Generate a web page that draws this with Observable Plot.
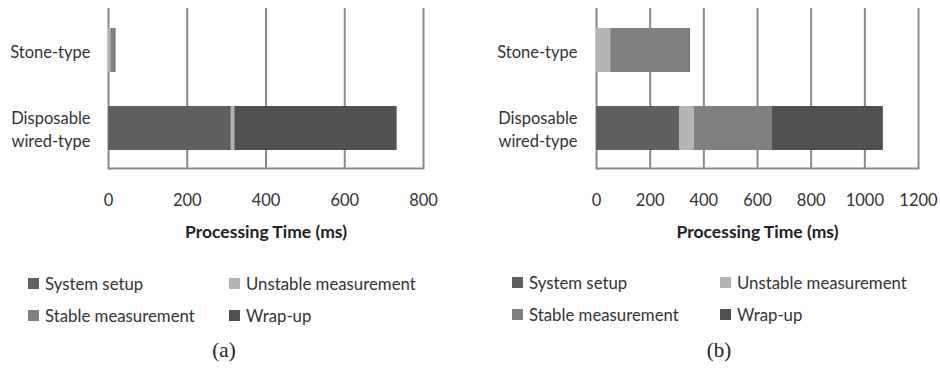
<!DOCTYPE html>
<html>
<head>
<meta charset="utf-8">
<script src="https://cdn.jsdelivr.net/npm/d3@7"></script>
<script src="https://cdn.jsdelivr.net/npm/@observablehq/plot@0.6"></script>
<style>
  html, body { margin: 0; padding: 0; background: #fff; }
  #wrap { display: flex; width: 940px; height: 371px; }
  .panel { position: relative; width: 470px; height: 371px; }
  .legend { position: absolute; font-family: Lato, sans-serif; font-size: 16.8px; color: #333; }
  .item { position: absolute; white-space: nowrap; display: flex; align-items: center; }
  .sw { width: 11px; height: 11px; margin-right: 6px; display: inline-block; }
  .cap { position: absolute; font-family: "Liberation Serif", serif; font-size: 21px; color: #222; transform: translateX(-50%); }
</style>
</head>
<body>
<div id="wrap"></div>
<script>
const categories = ["Stone-type", "Disposable wired-type"];
const stages = ["System setup", "Unstable measurement", "Stable measurement", "Wrap-up"];
const stageColors = ["#606060", "#b4b4b4", "#808080", "#505050"];

// (a) processing time (ms) per stage
const aStone = [0, 6, 10, 3];
const aWired = [312, 7, 2, 412];
const aTicks = [0, 200, 400, 600, 800];

// (b) processing time (ms) per stage
const bStone = [0, 53, 294, 3];
const bWired = [311, 54, 291, 413];
const bTicks = [0, 200, 400, 600, 800, 1000, 1200];

const captions = ["(a)", "(b)"];

function rows(stone, wired) {
  const out = [];
  stages.forEach((s, i) => {
    out.push({category: categories[0], stage: s, value: stone[i]});
    out.push({category: categories[1], stage: s, value: wired[i]});
  });
  return out;
}

const FONT = "Lato, sans-serif";

function panel(data, ticks, opts) {
  const div = document.createElement("div");
  div.className = "panel";
  const plot = Plot.plot({
    width: 470,
    height: 250,
    marginTop: 10,
    marginBottom: 82,
    marginLeft: opts.marginLeft,
    marginRight: opts.marginRight,
    style: {fontFamily: FONT, fontSize: "16.5px", color: "#333", background: "#fff"},
    x: {domain: [ticks[0], ticks[ticks.length - 1]], ticks: ticks},
    y: {domain: categories, paddingInner: 0.4375, paddingOuter: 0.22},
    color: {domain: stages, range: stageColors},
    marks: [
      Plot.ruleX(ticks, {stroke: "#8a8a8a", strokeWidth: 2, insetTop: -2}),
      Plot.frame({anchor: "bottom", stroke: "#8a8a8a", strokeWidth: 2}),
      Plot.barX(data, Plot.stackX({x: "value", y: "category", fill: "stage", order: stages})),
      Plot.axisX({ticks: ticks, tickSize: 0, tickPadding: 26, label: null, fontSize: 16.5, tickFormat: d3.format("d")}),
      Plot.axisY({tickSize: 0, tickPadding: opts.yPad, label: null, lineHeight: 1.4, fontSize: 16.5,
        tickFormat: d => d === "Disposable wired-type" ? "Disposable\nwired-type" : d}),
      Plot.text(["Processing Time (ms)"], {frameAnchor: "bottom", dy: 69, fontWeight: "bold", fontSize: 17.5, fill: "#222"})
    ]
  });
  div.appendChild(plot);

  const leg = document.createElement("div");
  leg.className = "legend";
  leg.style.left = "0px"; leg.style.top = "0px";
  stages.forEach((s, i) => {
    const it = document.createElement("div");
    it.className = "item";
    const col = i % 2, row = Math.floor(i / 2);
    it.style.left = opts.legX[col] + "px";
    it.style.top = (opts.legY[row] - 11) + "px";
    const sw = document.createElement("span");
    sw.className = "sw";
    sw.style.background = stageColors[i];
    it.appendChild(sw);
    it.appendChild(document.createTextNode(s));
    leg.appendChild(it);
  });
  div.appendChild(leg);

  const cap = document.createElement("div");
  cap.className = "cap";
  cap.style.left = opts.capX + "px";
  cap.style.top = opts.capY + "px";
  cap.textContent = opts.caption;
  div.appendChild(cap);
  return div;
}

const wrap = document.getElementById("wrap");
wrap.appendChild(panel(rows(aStone, aWired), aTicks,
  {marginLeft: 108, marginRight: 47, yPad: 18, legX: [28, 229], legY: [284, 316], capX: 224, capY: 338, caption: captions[0]}));
wrap.appendChild(panel(rows(bStone, bWired), bTicks,
  {marginLeft: 126, marginRight: 22, yPad: 19, legX: [42, 250], legY: [283, 315], capX: 249, capY: 338, caption: captions[1]}));
</script>
</body>
</html>
